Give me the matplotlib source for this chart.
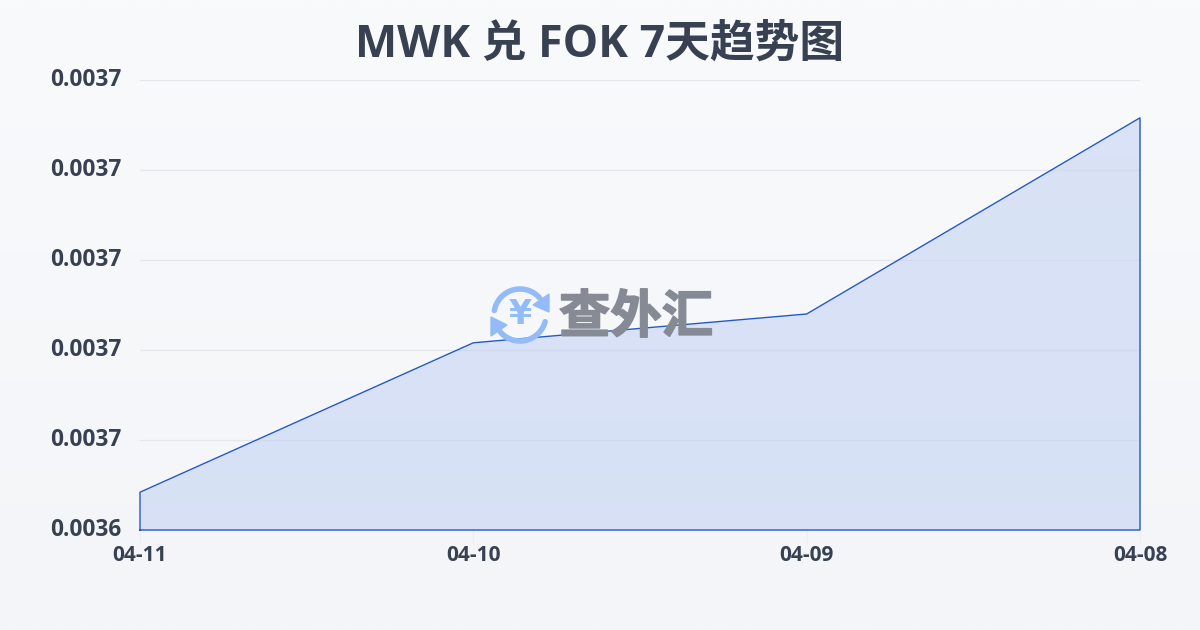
"""MWK / FOK 7-day trend area chart."""
import numpy as np
import matplotlib
matplotlib.use("Agg")
import matplotlib.pyplot as plt
import matplotlib.patheffects as pe
from matplotlib.patches import Arc, Polygon

W, H = 1200, 630

dates = ["04-11", "04-10", "04-09", "04-08"]
rates = [0.0036542, 0.0036708, 0.003674, 0.0036958]
y_ticks = [0.00365, 0.00366, 0.00367, 0.00368, 0.00369, 0.00370]
y_labels = ["0.0036", "0.0037", "0.0037", "0.0037", "0.0037", "0.0037"]

TEXT = "#374151"
LINE = "#2459c4"
FILL = "#bccdf2"
GRID = "#e5e7eb"
ICON = "#93bbf8"
WM_TEXT = "#4b5563"

plt.rcParams["font.family"] = ["Open Sans", "Noto Sans CJK SC", "DejaVu Sans"]

fig = plt.figure(figsize=(W / 100, H / 100), dpi=100)

# page background gradient
bg = fig.add_axes([0, 0, 1, 1], zorder=0)
bg.imshow(np.linspace(0, 1, 256).reshape(-1, 1), aspect="auto", extent=(0, 1, 0, 1),
          cmap=matplotlib.colors.LinearSegmentedColormap.from_list("bg", ["#f9fafc", "#f3f5f8"]))
bg.axis("off")

ax = fig.add_axes([140 / W, 1 - 530 / H, 1000 / W, 450 / H], zorder=1)
ax.patch.set_alpha(0)
x = np.arange(len(dates))
ax.fill_between(x, y_ticks[0], rates, color=FILL, alpha=0.5, linewidth=0, zorder=2)
ax.plot(np.r_[x[0], x, x[-1], x[0]], np.r_[y_ticks[0], rates, y_ticks[0], y_ticks[0]],
        color=LINE, linewidth=1, zorder=3, clip_on=False)

ax.set_xlim(x[0], x[-1])
ax.set_ylim(y_ticks[0], y_ticks[-1])
ax.set_xticks(x, dates)
ax.set_yticks(y_ticks, y_labels)
ax.grid(axis="y", color=GRID, linewidth=0.9, zorder=1)
ax.grid(axis="x", visible=False)
for s in ax.spines.values():
    s.set_visible(False)
ax.tick_params(axis="x", length=10, width=0.8, color="#eeeeee", pad=1)
ax.tick_params(axis="y", length=0, pad=13.5)
for lab in ax.get_xticklabels():
    lab.set(fontweight="bold", fontsize=15, color=TEXT)
for lab in ax.get_yticklabels():
    lab.set(fontweight="bold", fontsize=16.3, color=TEXT)
    lab.set_verticalalignment("center")

fig.text(600 / W, 1 - 45 / H, "MWK 兑 FOK 7天趋势图", ha="center", va="center",
         fontsize=32.2, fontweight="bold", color=TEXT)

# watermark, in pixel coordinates
wm = fig.add_axes([0, 0, 1, 1], zorder=2)
wm.set_xlim(0, W)
wm.set_ylim(H, 0)
wm.axis("off")
cx, cy, r = 520, 315, 26
wm.add_patch(Arc((cx, cy), 2 * r, 2 * r, theta1=190, theta2=320, color=ICON, lw=4, capstyle="round"))
wm.add_patch(Arc((cx, cy), 2 * r, 2 * r, theta1=15, theta2=140, color=ICON, lw=4, capstyle="round"))
wm.add_patch(Polygon([[549, 294], [549, 312], [533, 305]], color=ICON))
wm.add_patch(Polygon([[491, 317], [507, 325], [491, 336]], color=ICON))
wm.text(cx, cy, "¥", ha="center", va="center", fontsize=24, fontweight="bold",
        color=ICON, fontfamily="DejaVu Sans")
wm_label = wm.text(636, 317, "查外汇", ha="center", va="center", fontsize=37, fontweight="bold",
                   color="#858a94", fontfamily="Noto Sans CJK SC")
wm_label.set_path_effects([pe.withStroke(linewidth=1.2, foreground="#858a94")])

fig.savefig("out.png", dpi=100)
